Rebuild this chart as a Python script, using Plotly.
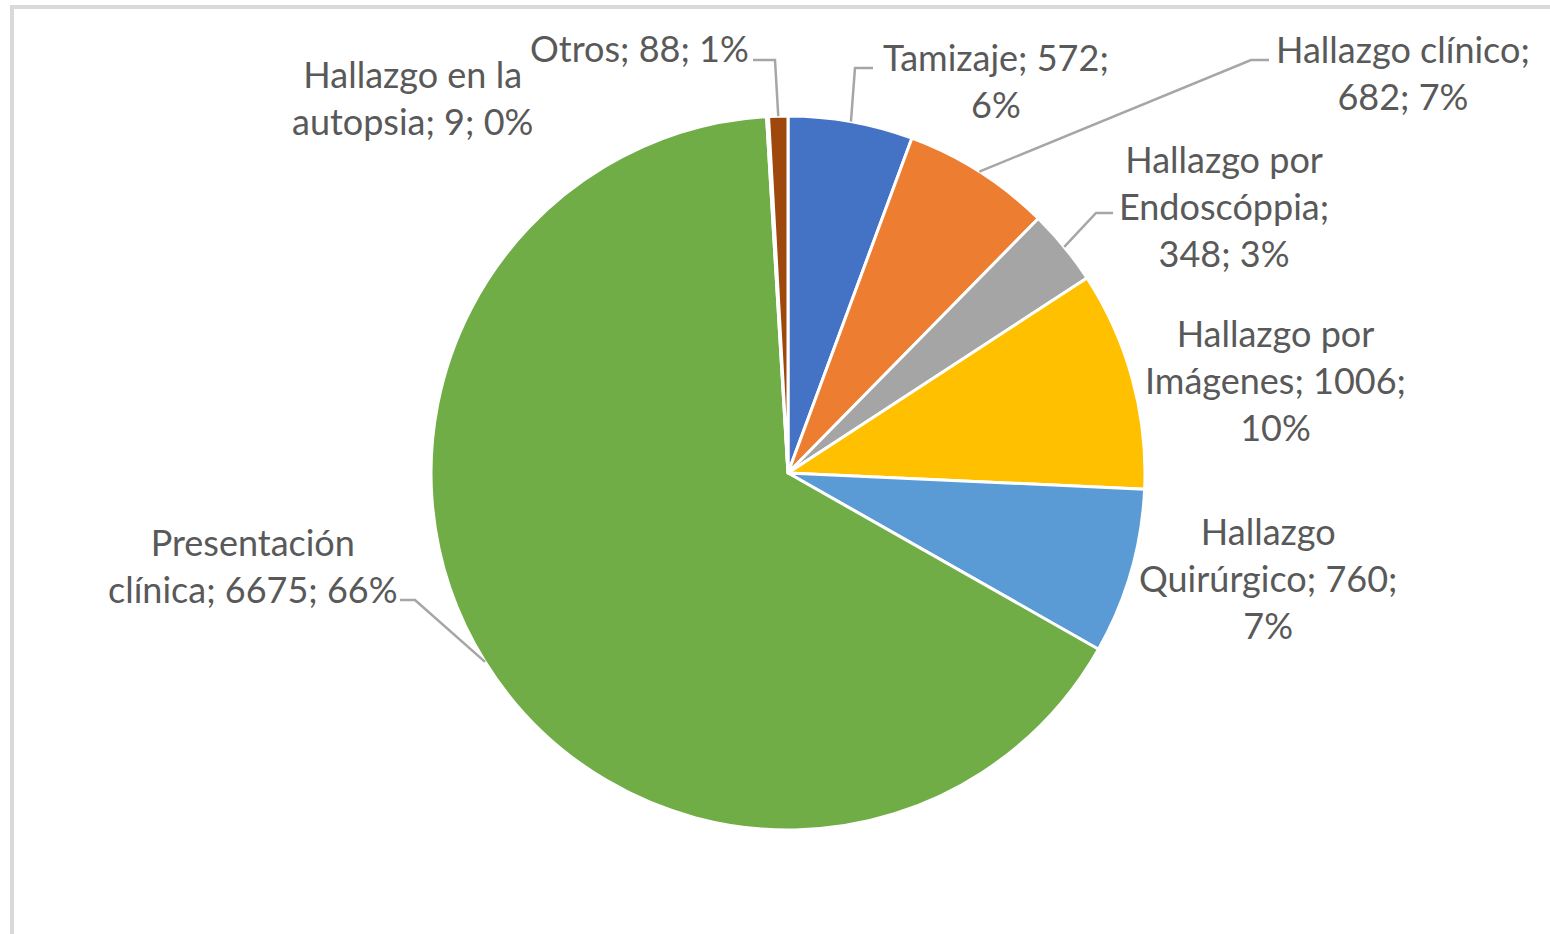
import math
import plotly.graph_objects as go

# ---- data ----
categories = ["Tamizaje", "Hallazgo clínico", "Hallazgo por Endoscóppia",
              "Hallazgo por Imágenes", "Hallazgo Quirúrgico",
              "Presentación clínica", "Hallazgo en la autopsia", "Otros"]
values = [572, 682, 348, 1006, 760, 6675, 9, 88]
percent_labels = ["6%", "7%", "3%", "10%", "7%", "66%", "0%", "1%"]
colors = ["#4472C4", "#ED7D31", "#A5A5A5", "#FFC000", "#5B9BD5",
          "#70AD47", "#264478", "#9E480E"]

# label text layout (line breaks as in the reference)
label_lines = [
    ["Tamizaje; 572;", "6%"],
    ["Hallazgo clínico;", "682; 7%"],
    ["Hallazgo por", "Endoscóppia;", "348; 3%"],
    ["Hallazgo por", "Imágenes; 1006;", "10%"],
    ["Hallazgo", "Quirúrgico; 760;", "7%"],
    ["Presentación", "clínica; 6675; 66%"],
    ["Hallazgo en la", "autopsia; 9; 0%"],
    ["Otros; 88; 1%"],
]

W, H = 1550, 934
OFF = 0  # page body margin removed below
CX, CY, R = 788, 473, 357

def X(px):
    return (px - OFF) / W

def Y(py):
    return 1 - (py - OFF) / H

# label centre positions (pixels)
label_pos = [(996, 81), (1403, 72), (1224, 206), (1275, 380), (1268, 578),
             (253, 565), (412, 97), (639, 48)]
# leader elbows: (elbow point, end point) or None
leaders = [((855, 68), (873, 68)),
           ((1251, 60), (1269, 60)),
           ((1096, 213), (1113, 213)),
           None, None,
           ((415, 600), (400, 600)),
           None,
           ((775, 60), (753, 60))]

fig = go.Figure(go.Pie(
    labels=categories, values=values, sort=False, direction="clockwise",
    rotation=0, textinfo="none", hoverinfo="label+value+percent",
    marker=dict(colors=colors, line=dict(color="white", width=3)),
    domain=dict(x=[X(CX - R), X(CX + R)], y=[Y(CY + R), Y(CY - R)]),
    showlegend=False,
))

total = sum(values)
cum = 0
shapes = []
annotations = []
for i, v in enumerate(values):
    mid = (cum + v / 2) / total * 2 * math.pi
    cum += v
    sx = CX + R * math.sin(mid)
    sy = CY - R * math.cos(mid)
    if leaders[i] is not None:
        (ex, ey), (tx, ty) = leaders[i]
        path = f"M {X(sx)} {Y(sy)} L {X(ex)} {Y(ey)} L {X(tx)} {Y(ty)}"
        shapes.append(dict(type="path", xref="paper", yref="paper", path=path,
                           line=dict(color="#A6A6A6", width=2.5)))
    lx, ly = label_pos[i]
    annotations.append(dict(
        x=X(lx), y=Y(ly), xref="paper", yref="paper",
        text="<br>".join(label_lines[i]), showarrow=False,
        xanchor="center", yanchor="middle", align="center",
        font=dict(family="Lato", size=36, color="#595959")))

# chart frame (top and left edges visible)
shapes.append(dict(type="line", xref="paper", yref="paper",
                   x0=X(10), x1=X(1560), y0=Y(7), y1=Y(7),
                   line=dict(color="#D9D9D9", width=4)))
shapes.append(dict(type="line", xref="paper", yref="paper",
                   x0=X(12), x1=X(12), y0=Y(5), y1=Y(950),
                   line=dict(color="#D9D9D9", width=4)))

fig.update_layout(
    width=W, height=H, margin=dict(l=0, r=0, t=0, b=0),
    paper_bgcolor="white", plot_bgcolor="white",
    shapes=shapes, annotations=annotations,
)

fig.write_html("out.html", config={"displayModeBar": False},
               post_script="document.body.style.margin='0px';")
